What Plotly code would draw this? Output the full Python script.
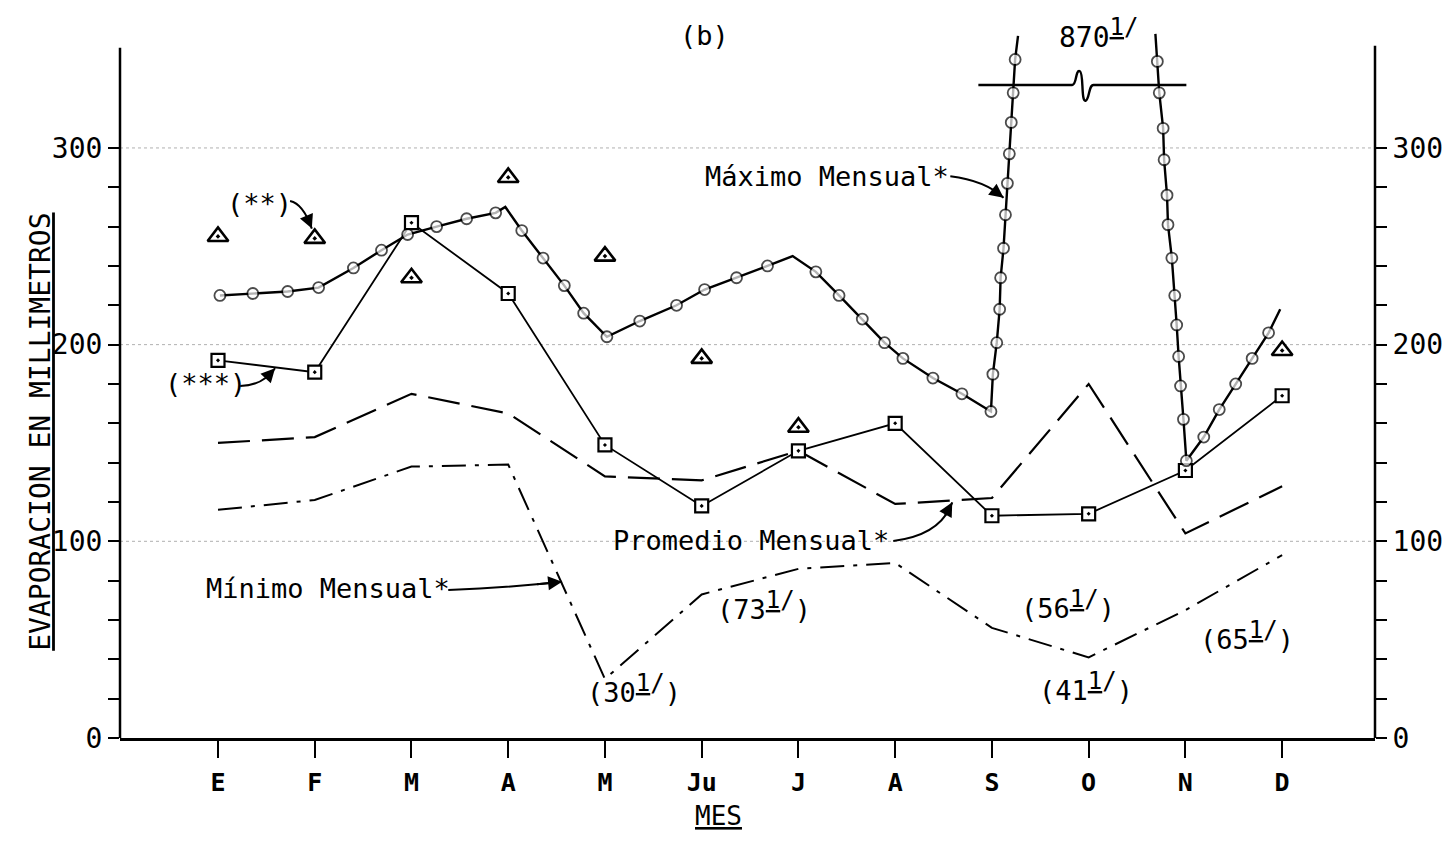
import plotly.graph_objects as go

# ---------------- data ----------------
meses = ["E", "F", "M", "A", "M", "Ju", "J", "A", "S", "O", "N", "D"]
pos_meses = list(range(1, 13))

promedio = [150, 153, 175, 165, 133, 131, 146, 119, 122, 180, 104, 128]
minimo = [116, 121, 138, 139, 30, 73, 86, 89, 56, 41, 65, 93]
cuadros = [192, 186, 262, 226, 149, 118, 146, 160, 113, 114, 136, 174]
triangulos = [255, 254, 234, 285, 245, 193, 158, None, None, None, None, 197]

maximo_x = [1.02, 1.36, 1.72, 2.04, 2.40, 2.69, 2.96, 3.26, 3.57, 3.87,
            3.97, 4.14, 4.36, 4.58, 4.78, 5.02, 5.36, 5.74, 6.03, 6.36,
            6.68, 6.94, 7.18, 7.42, 7.66, 7.89, 8.08, 8.39, 8.69, 8.99,
            9.01, 9.05, 9.08, 9.09, 9.12, 9.14, 9.16, 9.18, 9.20, 9.22,
            9.24, 9.27, None,
            10.69, 10.71, 10.73, 10.77, 10.78, 10.81, 10.82, 10.86, 10.89, 10.91,
            10.93, 10.95, 10.98, 11.01, 11.19, 11.35, 11.52, 11.69, 11.86, 11.98]
maximo_y = [225, 226, 227, 229, 239, 248, 256, 260, 264, 267,
            270, 258, 244, 230, 216, 204, 212, 220, 228, 234,
            240, 245, 237, 225, 213, 201, 193, 183, 175, 166,
            185, 201, 218, 234, 249, 266, 282, 297, 313, 328,
            345, 357, None,
            358, 344, 328, 310, 294, 276, 261, 244, 225, 210,
            194, 179, 162, 141, 153, 167, 180, 193, 206, 218]
maximo_sin_circulo = [10, 21, 41, 43, 62]

y_ticks = list(range(0, 301, 20))
y_labels = [str(v) if v % 100 == 0 else "" for v in y_ticks]

FONT = "DejaVu Sans Mono"
BLACK = "black"

fig = go.Figure()

fig.add_trace(go.Scatter(x=pos_meses, y=promedio, mode="lines",
                         line=dict(color=BLACK, width=2.2, dash="32px,12px"),
                         hoverinfo="skip"))
fig.add_trace(go.Scatter(x=pos_meses, y=minimo, mode="lines",
                         line=dict(color=BLACK, width=2.0, dash="24px,9px,4px,9px"),
                         hoverinfo="skip"))
fig.add_trace(go.Scatter(x=pos_meses, y=cuadros, mode="lines+markers",
                         line=dict(color=BLACK, width=1.8),
                         marker=dict(symbol="square-dot", size=13, color="white",
                                     line=dict(color=BLACK, width=2.2)),
                         hoverinfo="skip"))
fig.add_trace(go.Scatter(x=pos_meses, y=triangulos, mode="markers",
                         marker=dict(symbol="triangle-up-dot", size=18, color="white",
                                     line=dict(color=BLACK, width=2.6)),
                         hoverinfo="skip"))
sizes = [0 if i in maximo_sin_circulo else 11 for i in range(len(maximo_x))]
fig.add_trace(go.Scatter(x=maximo_x, y=maximo_y, mode="lines+markers", connectgaps=False,
                         line=dict(color=BLACK, width=2.4),
                         marker=dict(symbol="circle", size=sizes, color="white",
                                     line=dict(color=BLACK, width=1.8)),
                         hoverinfo="skip"))
# invisible trace to activate right axis
fig.add_trace(go.Scatter(x=[1], y=[0], yaxis="y2", mode="markers",
                         marker=dict(opacity=0), hoverinfo="skip"))

# axis spines
fig.add_shape(type="line", xref="paper", yref="y", x0=0, x1=0, y0=0, y1=351,
              line=dict(color=BLACK, width=2.5))
fig.add_shape(type="line", xref="paper", yref="y", x0=1, x1=1, y0=0, y1=352,
              line=dict(color=BLACK, width=2.5))
# faint grid lines
for g in (100, 200, 300):
    fig.add_shape(type="line", xref="paper", yref="y", x0=0, x1=1, y0=g, y1=g,
                  line=dict(color="#b0b0b0", width=1, dash="dot"), layer="below")

# scale break line with squiggle
fig.add_shape(type="path", xref="x", yref="y",
              path="M 8.86,332 L 9.83,332 C 9.88,332 9.86,340 9.91,339 "
                   "C 9.95,338 9.92,323 9.97,324 C 10.01,325 10.0,332 10.05,332 L 11.01,332",
              line=dict(color=BLACK, width=2.4))


def curved_arrow(p0, c, p1):
    fig.add_shape(type="path", xref="x", yref="y",
                  path=f"M {p0[0]},{p0[1]} Q {c[0]},{c[1]} {p1[0]},{p1[1]}",
                  line=dict(color=BLACK, width=2))
    t = 0.75
    bx = (1 - t) ** 2 * p0[0] + 2 * (1 - t) * t * c[0] + t ** 2 * p1[0]
    by = (1 - t) ** 2 * p0[1] + 2 * (1 - t) * t * c[1] + t ** 2 * p1[1]
    fig.add_annotation(x=p1[0], y=p1[1], ax=bx, ay=by, xref="x", yref="y",
                       axref="x", ayref="y", text="", showarrow=True,
                       arrowhead=2, arrowsize=1.4, arrowwidth=2,
                       arrowcolor=BLACK, standoff=0)


curved_arrow((1.745, 273), (1.88, 271.6), (1.97, 259))        # (**)
curved_arrow((1.23, 179), (1.455, 179), (1.59, 188))          # (***)
curved_arrow((8.57, 285.6), (8.93, 283.4), (9.12, 274.7))     # Maximo
curved_arrow((7.98, 100.2), (8.47, 103.1), (8.59, 119.8))     # Promedio
curved_arrow((3.38, 75.2), (4.02, 76.5), (4.557, 79.4))       # Minimo

SIZE = 27
FOOT = "<sup><span style='font-size:24px'><u>1</u>/</span></sup>"


def label(x, y, text, size=SIZE, xref="x", yref="y", angle=0):
    fig.add_annotation(x=x, y=y, xref=xref, yref=yref, text=text, showarrow=False,
                       font=dict(family=FONT, size=size, color=BLACK),
                       xanchor="center", yanchor="middle", textangle=angle)


label(7.30, 285.6, "Máximo Mensual*")
label(6.51, 100.6, "Promedio Mensual*")
label(2.14, 76.1, "Mínimo Mensual*")
label(1.43, 271.6, "(**)")
label(0.866, 180.2, "(***)")
label(5.30, 25.3, "(30" + FOOT + ")")
label(6.64, 67.5, "(73" + FOOT + ")")
label(9.79, 67.7, "(56" + FOOT + ")")
label(9.97, 26.4, "(41" + FOOT + ")")
label(11.64, 51.9, "(65" + FOOT + ")")

label(0.466, 0.986, "(b)", size=27, xref="paper", yref="paper")
label(0.780, 0.990, "870" + FOOT, size=28, xref="paper", yref="paper")
label(-0.063, 0.43, "<u>EVAPORACION EN MILLIMETROS</u>", size=28,
      xref="paper", yref="paper", angle=-90)
label(0.4765, -0.110, "<u>MES</u>", size=26, xref="paper", yref="paper")

axis_common = dict(range=[0, 362], tickvals=y_ticks, ticktext=y_labels, ticks="outside",
                   ticklen=11, tickwidth=2, tickcolor=BLACK, showline=False,
                   showgrid=False, zeroline=False, automargin=False,
                   tickfont=dict(family=FONT, size=28, color=BLACK))

# page body has an 8px default margin: the figure is sized so that the
# plotting area lands where it is in the reference window
fig.update_layout(
    width=1437, height=836,
    margin=dict(l=112, r=70, t=18, b=106, autoexpand=False),
    paper_bgcolor="white", plot_bgcolor="white",
    showlegend=False,
    font=dict(family=FONT, size=SIZE, color=BLACK),
    xaxis=dict(range=[-0.013, 12.96], tickvals=pos_meses, ticktext=meses,
               ticks="outside", ticklen=17, tickwidth=2, tickcolor=BLACK,
               showline=True, linewidth=2.5, linecolor=BLACK, showgrid=False,
               zeroline=False, ticklabelstandoff=3, automargin=False,
               tickfont=dict(family=FONT, size=25, color=BLACK, weight="bold")),
    yaxis=axis_common,
    yaxis2=dict(overlaying="y", side="right", **axis_common),
)

fig.write_html("out.html")
